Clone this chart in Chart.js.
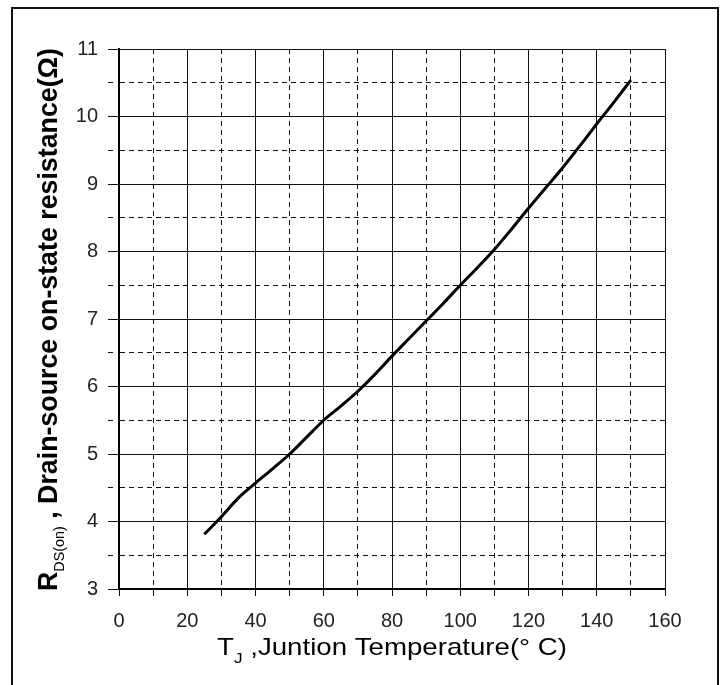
<!DOCTYPE html>
<html>
<head>
<meta charset="utf-8">
<script src="https://cdn.jsdelivr.net/npm/chart.js@4.4.0/dist/chart.umd.min.js"></script>
<style>
  html, body { margin: 0; padding: 0; background: #fff; }
  #wrap { width: 723px; height: 685px; position: relative; }
</style>
</head>
<body>
<div id="wrap"><canvas id="c" width="723" height="685"></canvas></div>
<script>
// Junction temperature (°C)
const temperature = [25, 30, 35, 40, 45, 50, 55, 60, 65, 70, 75, 80, 85, 90, 95, 100, 105, 110, 115, 120, 125, 130, 135, 140, 145, 150];
// Drain-source on-state resistance (Ω)
const resistance = [3.81, 4.07, 4.35, 4.57, 4.78, 5.00, 5.25, 5.50, 5.71, 5.93, 6.18, 6.45, 6.71, 6.97, 7.23, 7.50, 7.76, 8.03, 8.33, 8.64, 8.94, 9.24, 9.56, 9.89, 10.21, 10.54];

const xTickMin = 0, xTickMax = 160, xStep = 10;
const yTickMin = 3, yTickMax = 11, yStep = 0.5;

const xTitleParts = [
  { text: "T", sub: false },
  { text: "J", sub: true },
  { text: " ,Juntion Temperature(° C)", sub: false }
];
const yTitleParts = [
  { text: "R", sub: false },
  { text: "DS(on)", sub: true },
  { text: " , Drain-source on-state resistance(Ω)", sub: false }
];

const points = temperature.map((t, i) => ({ x: t, y: resistance[i] }));

const isMinorX = v => Math.round(v) % 20 !== 0;
const isMinorY = v => Math.abs(v - Math.round(v)) > 1e-6;

function drawParts(ctx, parts, mainFont, subFont, subDy, targetLen) {
  let total = 0;
  const widths = parts.map(p => {
    ctx.font = p.sub ? subFont : mainFont;
    const w = ctx.measureText(p.text).width;
    total += w;
    return w;
  });
  const s = targetLen / total;
  ctx.scale(s, 1);
  let x = 0;
  parts.forEach((p, i) => {
    ctx.font = p.sub ? subFont : mainFont;
    ctx.fillText(p.text, x, p.sub ? subDy : 0);
    x += widths[i];
  });
}

const titlesPlugin = {
  id: 'titles',
  afterDraw(chart) {
    const ctx = chart.ctx;
    const area = chart.chartArea;
    ctx.save();
    ctx.fillStyle = '#000';
    ctx.textBaseline = 'alphabetic';
    ctx.textAlign = 'left';
    // x title
    ctx.save();
    ctx.translate(area.left + 98, area.bottom + 66);
    drawParts(ctx, xTitleParts, '24px "Liberation Sans", Arial, sans-serif', '15px "Liberation Sans", Arial, sans-serif', 8, 350);
    ctx.restore();
    // y title
    ctx.save();
    ctx.translate(area.left - 62, area.bottom + 2);
    ctx.rotate(-Math.PI / 2);
    drawParts(ctx, yTitleParts, 'bold 28px "Liberation Sans", Arial, sans-serif', '15px "Liberation Sans", Arial, sans-serif', 7, 543);
    ctx.restore();
    // outer frame
    ctx.strokeStyle = '#111';
    ctx.lineWidth = 2;
    ctx.strokeRect(12, 8, 706, 700);
    ctx.restore();
  }
};

new Chart(document.getElementById('c'), {
  type: 'line',
  data: {
    datasets: [{
      data: points,
      borderColor: '#000',
      borderWidth: 3,
      pointRadius: 0,
      fill: false,
      tension: 0.4,
      cubicInterpolationMode: 'monotone'
    }]
  },
  options: {
    responsive: false,
    animation: false,
    devicePixelRatio: 1,
    layout: { padding: { top: 49, right: 58, left: 0, bottom: 0 } },
    plugins: { legend: { display: false }, tooltip: { enabled: false }, title: { display: false } },
    scales: {
      x: {
        type: 'linear',
        min: xTickMin, max: xTickMax,
        afterFit(scale) { scale.height = 96; },
        ticks: {
          stepSize: xStep,
          autoSkip: false,
          maxRotation: 0,
          padding: 13,
          color: '#222',
          font: { family: '"Liberation Sans Narrow", "Arial Narrow", sans-serif', size: 20 },
          callback: v => (isMinorX(v) ? '' : String(v))
        },
        grid: {
          color: '#111',
          lineWidth: 1,
          tickLength: 7,
          tickColor: '#111',
          tickWidth: 1
        },
        border: {
          display: true,
          color: '#000',
          width: 2,
          dash: ctx => (ctx.tick && isMinorX(ctx.tick.value) ? [5, 4] : [])
        }
      },
      y: {
        type: 'linear',
        min: yTickMin, max: yTickMax,
        afterFit(scale) { scale.width = 119; },
        ticks: {
          stepSize: yStep,
          autoSkip: false,
          padding: 10,
          color: '#222',
          font: { family: '"Liberation Sans Narrow", "Arial Narrow", sans-serif', size: 20 },
          callback: v => (isMinorY(v) ? '' : String(v))
        },
        grid: {
          color: '#111',
          lineWidth: 1,
          tickLength: 11,
          tickColor: '#111',
          tickWidth: 1,
          tickBorderDash: ctx => (ctx.tick && isMinorY(ctx.tick.value) ? [5, 40] : [])
        },
        border: {
          display: true,
          color: '#000',
          width: 2,
          dash: ctx => (ctx.tick && isMinorY(ctx.tick.value) ? [5, 4] : [])
        }
      }
    }
  },
  plugins: [titlesPlugin]
});
</script>
</body>
</html>
